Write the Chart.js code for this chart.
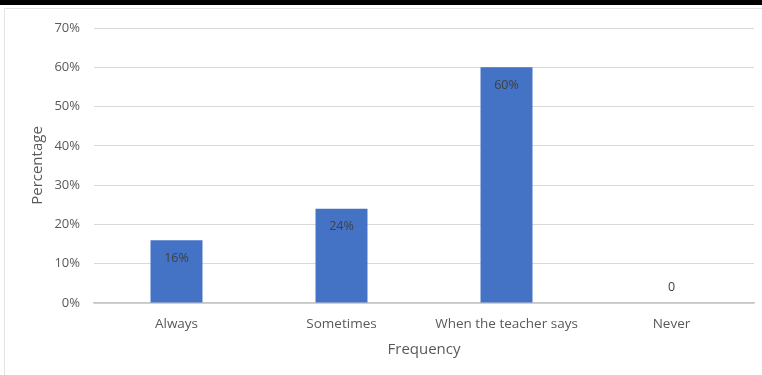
<!DOCTYPE html>
<html><head><meta charset="utf-8">
<script src="https://cdn.jsdelivr.net/npm/chart.js@4/dist/chart.umd.min.js"></script>
<style>
html,body{margin:0;padding:0;background:#fff;width:762px;height:375px;overflow:hidden;}
#band{position:absolute;left:0;top:0;width:762px;height:5px;background:#000;}
#box{position:absolute;left:4px;top:8px;width:800px;height:400px;border:1px solid #e3e3e3;box-sizing:border-box;}
#wrap{position:absolute;left:0;top:0;width:762px;height:375px;}
</style></head>
<body>
<div id="band"></div><div id="box"></div>
<div id="wrap"><canvas id="c" width="762" height="375"></canvas></div>
<script>
const categories = ["Always", "Sometimes", "When the teacher says", "Never"];
const values = [16, 24, 60, 0];
const valueLabels = ["16%", "24%", "60%", "0"];
const yTicks = [0, 10, 20, 30, 40, 50, 60, 70];

const FONT = "'Open Sans', sans-serif";
const dataLabels = {
  id: 'dataLabels',
  afterDatasetsDraw(chart) {
    const ctx = chart.ctx;
    const meta = chart.getDatasetMeta(0);
    ctx.save();
    ctx.font = "12.5px " + FONT;
    ctx.fillStyle = "#404040";
    ctx.textAlign = "center";
    ctx.textBaseline = "middle";
    meta.data.forEach((bar, i) => {
      const v = values[i];
      let y;
      if (v > 0) y = bar.y + 18; else y = bar.y - 16;
      ctx.fillText(valueLabels[i], bar.x, y);
    });
    ctx.restore();
  }
};

new Chart(document.getElementById('c'), {
  type: 'bar',
  data: { labels: categories, datasets: [{ data: values, backgroundColor: '#4472C4', barPercentage: 0.63, categoryPercentage: 0.5 }] },
  options: {
    responsive: false, animation: false,
    layout: { padding: { left: 0, right: 8, top: 28, bottom: 0 } },
    plugins: { legend: { display: false }, tooltip: { enabled: false } },
    scales: {
      x: {
        grid: { display: false, drawTicks: false },
        border: { display: true, color: '#c8c8c8', width: 1.5 },
        ticks: { color: '#595959', font: { family: FONT, size: 13.5 }, padding: 13, maxRotation: 0 },
        title: { display: true, text: 'Frequency', color: '#595959', font: { family: FONT, size: 15 }, padding: { top: 0, bottom: 16 } },
        afterFit(s) { s.height = 72; }
      },
      y: {
        min: 0, max: 70,
        afterBuildTicks(s) { s.ticks = yTicks.map(v => ({ value: v })); },
        grid: { color: '#d9d9d9', drawTicks: false },
        border: { display: false },
        ticks: { color: '#595959', font: { family: FONT, size: 13 }, padding: 14, callback: v => v + '%' },
        title: { display: true, text: 'Percentage', color: '#595959', font: { family: FONT, size: 15 }, padding: { top: 29, bottom: 0 } },
        afterFit(s) { s.width = 94; }
      }
    }
  },
  plugins: [dataLabels]
});
</script>
</body></html>
